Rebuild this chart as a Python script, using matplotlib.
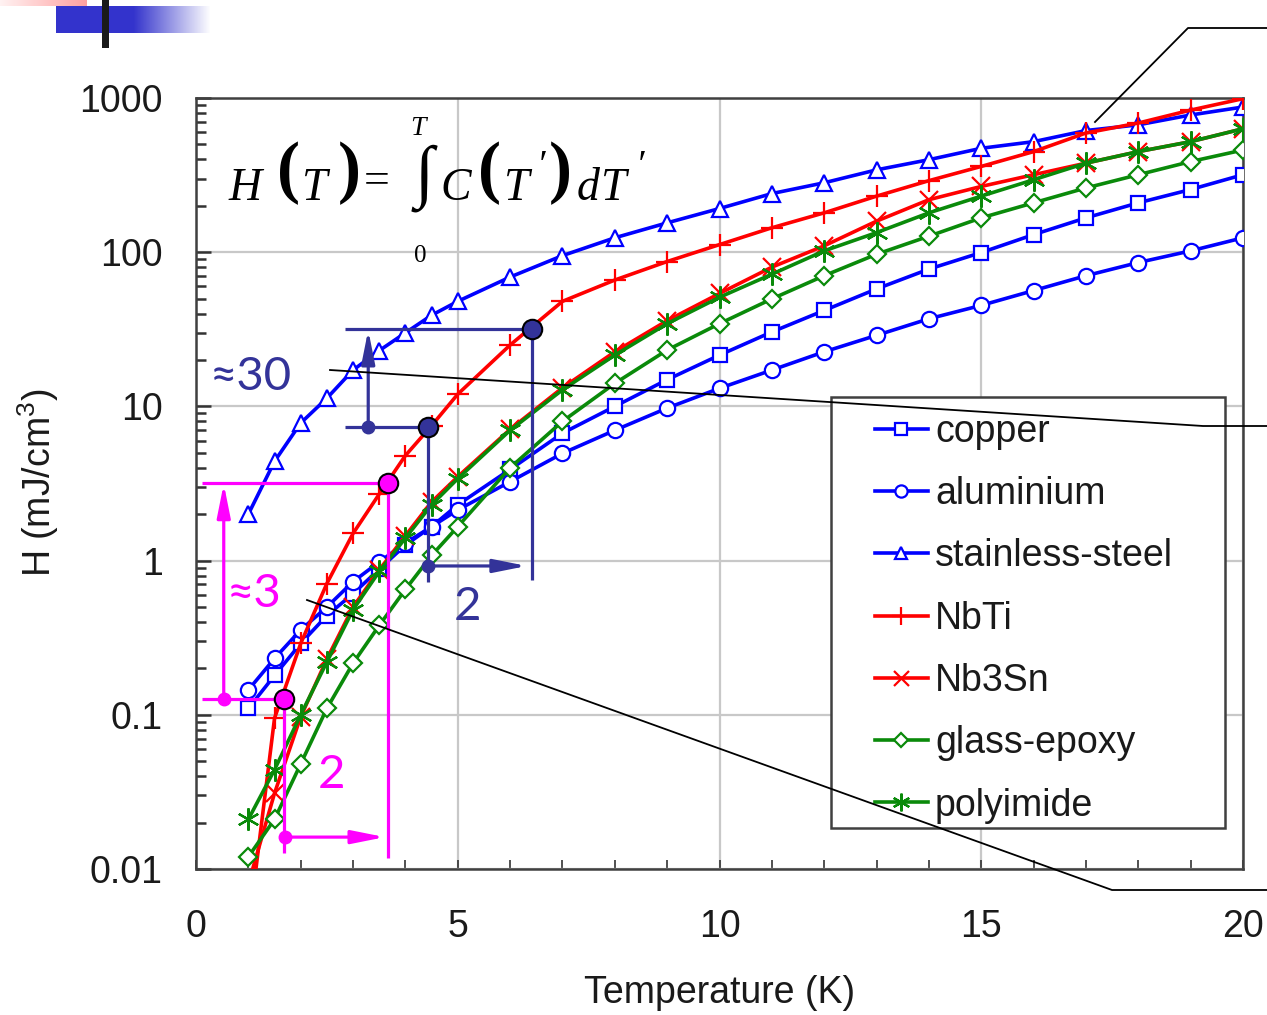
import numpy as np
import matplotlib
matplotlib.use('Agg')
import matplotlib.pyplot as plt
from matplotlib.lines import Line2D
from matplotlib.patches import FancyArrowPatch, Rectangle
import matplotlib.ticker as mticker

# ---------------- data ----------------
temperature = [1, 1.5, 2, 2.5, 3, 3.5, 4, 4.5, 5, 6, 7, 8, 9, 10, 11, 12, 13, 14, 15, 16, 17, 18, 19, 20]

copper = [0.11, 0.18, 0.29, 0.44, 0.61, 0.88, 1.26, 1.66, 2.3, 3.9, 6.7, 10.0, 14.9, 21.5, 30.4, 41.9,
          57.8, 77.7, 99.5, 130, 167, 209, 255, 318]
aluminium = [0.145, 0.232, 0.355, 0.50, 0.73, 0.98, 1.3, 1.66, 2.13, 3.25, 4.96, 7.0, 9.75, 13.1, 17.2,
             22.6, 28.9, 37, 45.2, 56.4, 70.4, 85.7, 102, 124]
stainless_steel = [2.0, 4.4, 7.8, 11.3, 17.2, 23, 30, 39, 48, 69, 95, 124, 155, 192, 240, 282, 342, 398,
                   472, 521, 615, 670, 776, 874]
nbti = [0.004, 0.095, 0.29, 0.71, 1.5, 2.7, 4.8, 7.5, 12, 25, 48, 66, 87, 112, 144, 180, 231, 291, 360,
        449, 593, 688, 835, 990]
nb3sn = [0.008, 0.031, 0.097, 0.23, 0.50, 0.87, 1.45, 2.4, 3.5, 7.1, 13.2, 22.6, 36, 54, 80, 110, 159,
         219, 267, 318, 378, 449, 521, 632]
glass_epoxy = [0.012, 0.021, 0.048, 0.11, 0.216, 0.38, 0.65, 1.08, 1.66, 4.0, 8.0, 14.1, 23.2, 34.4, 49.8,
               70.4, 97, 127, 167, 209, 261, 318, 387, 460]
polyimide = [0.021, 0.044, 0.10, 0.22, 0.48, 0.85, 1.4, 2.3, 3.4, 7.0, 12.8, 21.5, 34.4, 51, 72, 102, 134,
             180, 231, 295, 378, 449, 521, 632]

series_names = ['copper', 'aluminium', 'stainless-steel', 'NbTi', 'Nb3Sn', 'glass-epoxy', 'polyimide']
series_values = [copper, aluminium, stainless_steel, nbti, nb3sn, glass_epoxy, polyimide]

x_ticks = [0, 5, 10, 15, 20]
x_tick_labels = ['0', '5', '10', '15', '20']
y_ticks = [0.01, 0.1, 1, 10, 100, 1000]
y_tick_labels = ['0.01', '0.1', '1', '10', '100', '1000']

# annotation anchor points (T [K], H [mJ/cm3])
mag_hi = (3.67, 3.2)
mag_lo = (1.68, 0.126)
navy_hi = (6.42, 31.8)
navy_lo = (4.43, 7.36)

# ---------------- styles ----------------
BLUE, RED, GREEN = '#0000ff', '#ff0000', '#0a8a0a'
MAG, NAVY = '#ff00ff', '#333399'
styles = [
    dict(color=BLUE, marker='s', ms=10, mfc='white'),
    dict(color=BLUE, marker='o', ms=11, mfc='white'),
    dict(color=BLUE, marker='^', ms=11, mfc='white'),
    dict(color=RED, marker='+', ms=16, mfc='none'),
    dict(color=RED, marker='x', ms=13.5, mfc='none'),
    dict(color=GREEN, marker='D', ms=9, mfc='white'),
    dict(color=GREEN, marker=(6, 2, 0), ms=16, mfc='none'),
]

W, HPX = 1267, 1015
def fx(x):
    return x / W
def fy(y):
    return 1 - y / HPX

plt.rcParams['font.family'] = ['Liberation Sans', 'DejaVu Sans']
plt.rcParams['mathtext.default'] = 'regular'

fig = plt.figure(figsize=(W / 100, HPX / 100), dpi=100)
fig.patch.set_facecolor('white')
ax = fig.add_axes([fx(196), fy(869), (1243 - 196) / W, (869 - 98) / HPX])

for name, vals, st in zip(series_names, series_values, styles):
    ax.plot(temperature, vals, label=name, color=st['color'], lw=2.6, marker=st['marker'],
            ms=st['ms'], mfc=st['mfc'], mec=st['color'], mew=1.6, zorder=3)

ax.set_yscale('log')
ax.set_xlim(0, 20)
ax.set_ylim(0.01, 1000)
ax.set_xticks(x_ticks)
ax.set_xticklabels(x_tick_labels)
ax.xaxis.set_minor_locator(mticker.MultipleLocator(1))
ax.set_yticks(y_ticks)
ax.set_yticklabels(y_tick_labels)
ax.yaxis.set_minor_locator(mticker.LogLocator(base=10, subs=np.arange(2, 10)))
ax.yaxis.set_minor_formatter(mticker.NullFormatter())
ax.grid(True, which='major', color='#c8c8c8', lw=1.6, zorder=0)
ax.set_axisbelow(True)
ax.tick_params(axis='y', which='major', direction='in', length=11, width=1.8, labelsize=27, pad=24,
               colors='#333333', labelcolor='#1a1a1a')
ax.tick_params(axis='y', which='minor', direction='in', length=7, width=1.8, colors='#333333')
ax.tick_params(axis='x', which='both', direction='in', length=6.5, width=1.2, labelsize=27, pad=29,
               colors='#333333', labelcolor='#1a1a1a')
for sp in ax.spines.values():
    sp.set_color('#404040')
    sp.set_linewidth(1.8)

ax.set_xlabel('Temperature (K)', fontsize=27, color='#1a1a1a')
ax.set_ylabel('H (mJ/cm$^{3}$)', fontsize=27, color='#1a1a1a')
ax.xaxis.set_label_coords((720 - 196) / 1047, -(993 - 869) / 771)
ax.xaxis.label.set_verticalalignment('center')
ax.yaxis.set_label_coords((38 - 196) / 1047, 1 - (483 - 98) / 771)
ax.yaxis.label.set_verticalalignment('center')

# legend box + legend
lx0, ly0, lx1, ly1 = 831, 397, 1225, 828
ax.add_patch(Rectangle((fx(lx0), fy(ly1)), (lx1 - lx0) / W, (ly1 - ly0) / HPX, transform=fig.transFigure,
                       facecolor='white', edgecolor='#404040', lw=1.8, zorder=4))
leg = ax.legend(loc='upper left', bbox_to_anchor=(fx(875), fy(414)), bbox_transform=fig.transFigure,
                frameon=False, fontsize=27, borderpad=0, borderaxespad=0, handlelength=1.4,
                handletextpad=0.2, labelspacing=0.70, markerscale=0.8)
leg.set_zorder(5)
for t in leg.get_texts():
    t.set_color('#1a1a1a')

# ---------------- annotations ----------------
LW_A = 2.3
def seg(p, q, c):
    ax.plot([p[0], q[0]], [p[1], q[1]], color=c, lw=LW_A, solid_capstyle='butt', zorder=6)

def arrow(p, q, c):
    ax.add_patch(FancyArrowPatch(p, q, arrowstyle='-|>,head_length=1.0,head_width=0.2', mutation_scale=20,
                                 color=c, lw=LW_A, shrinkA=0, shrinkB=0, zorder=6))

# magenta
seg((0.12, mag_hi[1]), mag_hi, MAG)
seg(mag_hi, (mag_hi[0], 0.0118), MAG)
seg((0.12, mag_lo[1]), mag_lo, MAG)
seg(mag_lo, (mag_lo[0], 0.0127), MAG)
arrow((0.53, mag_lo[1]), (0.53, 3.15), MAG)
ax.plot([0.53], [mag_lo[1]], 'o', color=MAG, ms=9, zorder=7)
arrow((1.70, 0.0161), (3.61, 0.0161), MAG)
ax.plot([1.70], [0.0161], 'o', color=MAG, ms=9, zorder=7)
ax.plot([mag_hi[0], mag_lo[0]], [mag_hi[1], mag_lo[1]], 'o', ls='none', color=MAG, mec='black', mew=1.5,
        ms=14, zorder=8)

# navy
seg((2.85, navy_hi[1]), navy_hi, NAVY)
seg(navy_hi, (navy_hi[0], 0.748), NAVY)
seg((2.85, navy_lo[1]), navy_lo, NAVY)
seg(navy_lo, (navy_lo[0], 0.73), NAVY)
arrow((3.29, navy_lo[1]), (3.29, 31.3), NAVY)
ax.plot([3.29], [navy_lo[1]], 'o', color=NAVY, ms=9, zorder=7)
arrow((4.43, 0.923), (6.32, 0.923), NAVY)
ax.plot([4.43], [0.923], 'o', color=NAVY, ms=9, zorder=7)
ax.plot([navy_hi[0], navy_lo[0]], [navy_hi[1], navy_lo[1]], 'o', ls='none', color=NAVY, mec='black',
        mew=1.5, ms=14, zorder=8)

AF = ['Lato', 'DejaVu Sans']
fig.text(fx(251), fy(390), '≈30', color=NAVY, fontsize=34, family=AF, ha='center', va='baseline')
fig.text(fx(254), fy(607), '≈3', color=MAG, fontsize=34, family=AF, ha='center', va='baseline')
fig.text(fx(332), fy(788), '2', color=MAG, fontsize=34, family=AF, ha='center', va='baseline')
fig.text(fx(467), fy(620), '2', color=NAVY, fontsize=34, family=AF, ha='center', va='baseline')

# leader lines
for pts in [[(1095, 122), (1188, 28), (1267, 28)],
            [(330, 370), (1203, 426), (1267, 426)],
            [(307, 600), (1112, 890), (1267, 890)]]:
    fig.add_artist(Line2D([fx(p[0]) for p in pts], [fy(p[1]) for p in pts], color='black', lw=1.3,
                          transform=fig.transFigure, zorder=10))

# formula H(T) = int_0^T C(T') dT'
SF = ['Liberation Serif', 'DejaVu Serif']
def ft(x, y, s, size, style='italic', weight='normal', va='baseline'):
    fig.text(fx(x), fy(y), s, fontsize=size, family=SF, style=style, weight=weight, ha='center', va=va,
             color='black', zorder=9)

ft(245, 200, 'H', 33)
ft(289, 190, '(', 50, style='normal', weight='bold')
ft(315, 200, 'T', 33)
ft(349, 190, ')', 50, style='normal', weight='bold')
ft(377, 193, '=', 33, style='normal')
ft(424, 178, '∫', 50, style='normal', va='center')
ft(418, 135, 'T', 20)
ft(420, 262, '0', 18, style='normal')
ft(456, 200, 'C', 33)
ft(490, 190, '(', 50, style='normal', weight='bold')
ft(517, 200, 'T', 33)
ft(541, 167, '′', 28, va='center')
ft(560, 190, ')', 50, style='normal', weight='bold')
ft(588, 200, 'd', 33)
ft(614, 200, 'T', 33)
ft(640, 167, '′', 28, va='center')

# slide decoration (top-left)
dec = fig.add_axes([fx(56), fy(33), (210 - 56) / W, (33 - 6) / HPX])
blue = np.array([0.2, 0.2, 0.8])
t = np.clip((np.arange(154) + 56 - 133) / (210 - 133), 0, 1)
grad = blue[None, :] * (1 - t[:, None]) + t[:, None]
dec.imshow(grad[None, :, :], aspect='auto')
dec.axis('off')
pk = fig.add_axes([0, fy(6), 87 / W, 6 / HPX])
tt = np.linspace(0, 1, 87)
pink = np.stack([np.ones(87), 0.95 - 0.32 * tt, 0.95 - 0.32 * tt], axis=1)
pk.imshow(pink[None, :, :], aspect='auto')
pk.axis('off')
fig.add_artist(Rectangle((fx(102), fy(48)), 7 / W, 48 / HPX, transform=fig.transFigure,
                         facecolor='#1a1a1a', edgecolor='none', zorder=11))

fig.savefig('out.png', dpi=100, facecolor='white')
